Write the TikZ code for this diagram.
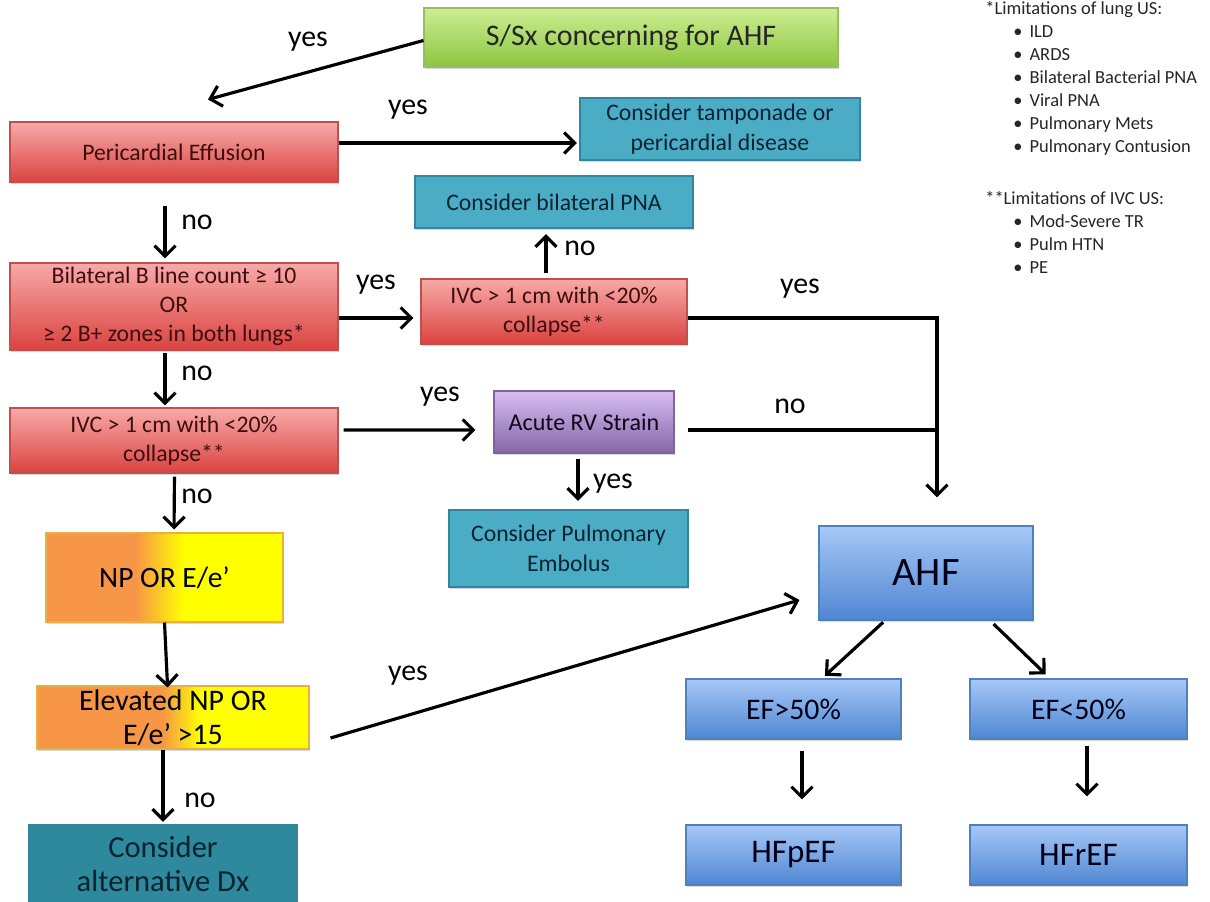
\documentclass[tikz,border=0pt]{standalone}
\usepackage{fontspec}
\setmainfont{Carlito}
\usetikzlibrary{arrows.meta,shadows,calc}
\definecolor{gTop}{HTML}{CDEE93}
\definecolor{gBot}{HTML}{8CC540}
\definecolor{gLine}{HTML}{98BF5E}
\definecolor{rTop}{HTML}{F7AAA8}
\definecolor{rBot}{HTML}{DA4340}
\definecolor{rLine}{HTML}{C0504D}
\definecolor{rText}{HTML}{3E0E0E}
\definecolor{tFill}{HTML}{4BACC6}
\definecolor{tLine}{HTML}{31859C}
\definecolor{tText}{HTML}{0B2230}
\definecolor{aFill}{HTML}{2F899C}
\definecolor{pTop}{HTML}{D8BDF2}
\definecolor{pBot}{HTML}{8366A8}
\definecolor{pLine}{HTML}{8064A2}
\definecolor{bTop}{HTML}{A6C8F7}
\definecolor{bBot}{HTML}{4F86D2}
\definecolor{bLine}{HTML}{4F81BD}
\definecolor{myorange}{HTML}{F79646}
\definecolor{myyellow}{HTML}{FFFF00}
\definecolor{oLine}{HTML}{E8B040}
\pgfdeclarehorizontalshading{oyA}{100bp}{color(0bp)=(myorange); color(44bp)=(myorange); color(54bp)=(myyellow); color(100bp)=(myyellow)}
\pgfdeclarehorizontalshading{oyB}{100bp}{color(0bp)=(myorange); color(48bp)=(myorange); color(55bp)=(myyellow); color(100bp)=(myyellow)}
\newcommand\fsz[2]{\fontsize{#1}{#2}\selectfont}
\tikzset{
  sz/.style 2 args={minimum width={#1*0.02cm}, minimum height={#2*0.02cm}},
  box/.style={draw, line width=0.6pt, inner sep=1pt, align=center,
    drop shadow={shadow xshift=0.7pt, shadow yshift=-0.9pt, opacity=0.3}},
  greenbox/.style={box, draw=gLine, top color=gTop, bottom color=gBot, font=\fsz{17}{20}, text=black!85},
  redbox/.style={box, draw=rLine, top color=rTop, bottom color=rBot, font=\fsz{13.5}{16.6}, text=rText},
  tealbox/.style={box, draw=tLine, line width=1.3pt, fill=tFill, font=\fsz{13.5}{17}, text=tText},
  altbox/.style={box, draw=tLine, line width=1.3pt, fill=aFill, font=\fsz{17.4}{19}, text=tText},
  purplebox/.style={box, draw=pLine, top color=pTop, bottom color=pBot, font=\fsz{13.7}{17}, text=black!80!violet},
  bluebox/.style={box, draw=bLine, top color=bTop, bottom color=bBot, font=\fsz{17}{20}, text=black!90!blue},
  oybox/.style={box, draw=oLine, font=\fsz{16.8}{20}, text=black},
  lbl/.style={font=\fsz{17}{20}, inner sep=0pt, text=black},
  note/.style={anchor=west, inner sep=0pt, font=\fsz{10.5}{12}, text=black!85, text height=7pt, text depth=2pt},
  arr/.style={line width=1.8pt, -{Straight Barb[length=6pt,width=12pt,line width=1.8pt]}},
  ln/.style={line width=1.8pt}
}
\begin{document}
\begin{tikzpicture}[x=0.02cm,y=-0.02cm]
\clip (0,0) rectangle (1210,902);
\fill[white] (0,0) rectangle (1210,902);

% boxes
\node[greenbox, sz={414}{59}] (sx) at (631,37.5) {S/Sx concerning for AHF};
\node[redbox, sz={328}{60}] (pe) at (174,152) {Pericardial Effusion};
\node[tealbox, sz={280}{62}] (tamp) at (720,129) {Consider tamponade or\\pericardial disease};
\node[tealbox, sz={278}{52}] (pna) at (554,202) {Consider bilateral PNA};
\node[redbox, sz={328}{87}] (bl) at (174,306.5) {Bilateral B line count ≥ 10\\OR\\≥ 2 B+ zones in both lungs*};
\node[redbox, sz={266}{65}] (ivcR) at (554,311.5) {IVC > 1 cm with <20\%\\collapse**};
\node[redbox, sz={328}{65}] (ivcL) at (174,440.5) {IVC > 1 cm with <20\%\\collapse**};
\node[purplebox, sz={180}{62}] (rv) at (584,422) {Acute RV Strain};
\node[tealbox, sz={239}{77}] (emb) at (568.5,548.5) {Consider Pulmonary\\Embolus};
\node[oybox, shading=oyA, sz={237}{89}] (np) at (164.5,577.5) {NP OR E/e’};
\node[oybox, shading=oyB, sz={272}{63}, font=\fsz{17}{19.5}] (el) at (173,717.5) {Elevated NP OR\\E/e’ >15};
\node[altbox, sz={268}{78}] (alt) at (163,864) {Consider\\alternative Dx};
\node[bluebox, sz={214}{94}, font=\fsz{23}{26}] (ahf) at (926,573) {AHF};
\node[bluebox, sz={215}{60}] (ef1) at (793.5,709) {EF>50\%};
\node[bluebox, sz={217}{60}] (ef2) at (1078.5,709) {EF<50\%};
\node[bluebox, sz={215}{60}, font=\fsz{18.8}{22}] (hfp) at (793.5,855) {HFpEF};
\node[bluebox, sz={217}{60}, font=\fsz{18.8}{22}] (hfr) at (1078.5,855) {HFrEF};

% connectors
\coordinate (c1) at ($(pe.north)+(34,-22)$);
\draw[arr] ([yshift=-0.06cm]sx.west) -- (c1);
\draw[arr] ([yshift=0.18cm]pe.east) -- ([yshift=0.18cm,xshift=-0.04cm]pe.east -| tamp.west);
\draw[arr, shorten <=0.46cm, shorten >=0.08cm] ([xshift=-0.18cm]pe.south) -- ([xshift=-0.18cm]bl.north);
\draw[arr, shorten >=0.14cm] ([yshift=-0.23cm]bl.east) -- ([yshift=-0.23cm]bl.east -| ivcR.west);
\draw[arr, shorten <=0.1cm, shorten >=0.1cm] ([xshift=-0.16cm]ivcR.north) -- ([xshift=-0.16cm]ivcR.north |- pna.south);
\coordinate (j) at ($(ahf.north)+(11,-28)$);
\draw[arr] ([yshift=-0.13cm]ivcR.east) -| (j);
\draw[arr, shorten <=0.04cm, shorten >=0.04cm] ([xshift=-0.18cm]bl.south) -- ([xshift=-0.18cm]bl.south |- ivcL.north);
\draw[arr, shorten <=0.1cm, shorten >=0.36cm] ([yshift=0.21cm]ivcL.east) -- ([yshift=-0.16cm]rv.west);
\draw[ln, shorten <=0.26cm] ([yshift=-0.16cm]rv.east) -- ([yshift=-0.16cm]rv.east -| j);
\draw[arr, shorten <=0.1cm, shorten >=0.16cm] ([xshift=-0.12cm]rv.south) -- ([xshift=-0.12cm]rv.south |- emb.north);
\draw[arr, shorten <=0.06cm, shorten >=0.06cm] ([xshift=0.01cm]ivcL.south) -- (ivcL.south |- np.north);
\draw[arr, shorten >=-0.04cm] (np.south) -- ([xshift=0.06cm]np.south |- el.north);
\draw[arr, shorten >=0.04cm] ([xshift=-0.2cm]el.south) -- ([xshift=-0.2cm]el.south |- alt.north);
\draw[arr] ($(el.east)+(21,20.5)$) -- ($(ahf.west)+(-19,27)$);
\draw[arr, shorten <=0.05cm, shorten >=0.08cm] ([xshift=-0.82cm]ahf.south) -- ([xshift=0.57cm]ef1.north);
\draw[arr, shorten <=0.1cm, shorten >=0.12cm] ([xshift=1.28cm]ahf.south) -- ([xshift=-0.57cm]ef2.north);
\draw[arr, shorten <=0.22cm, shorten >=0.5cm] ([xshift=0.17cm]ef1.south) -- ([xshift=0.17cm]ef1.south |- hfp.north);
\draw[arr, shorten <=0.12cm, shorten >=0.56cm] ([xshift=0.17cm]ef2.south) -- ([xshift=0.17cm]ef2.south |- hfr.north);

% labels
\node[lbl] (l1) at (308,42) {yes};
\node[lbl] (l2) at (408,110) {yes};
\node[lbl] (l3) at (197,222) {no};
\node[lbl] (l4) at (376,285) {yes};
\node[lbl] (l5) at (580,248) {no};
\node[lbl] (l6) at (800,289) {yes};
\node[lbl] (l7) at (197,373) {no};
\node[lbl] (l8) at (440,397) {yes};
\node[lbl] (l9) at (790,406) {no};
\node[lbl] (l10) at (613,484) {yes};
\node[lbl] (l11) at (197,496) {no};
\node[lbl] (l12) at (408,676) {yes};
\node[lbl] (l13) at (200,800) {no};

% notes
\node[note] (n0) at (985,10) {*Limitations of lung US:};
\node[note] (n1) at (1013,33) {\textbullet\hspace{4pt}ILD};
\node[note] (n2) at (1013,56) {\textbullet\hspace{4pt}ARDS};
\node[note] (n3) at (1013,79) {\textbullet\hspace{4pt}Bilateral Bacterial PNA};
\node[note] (n4) at (1013,102) {\textbullet\hspace{4pt}Viral PNA};
\node[note] (n5) at (1013,125) {\textbullet\hspace{4pt}Pulmonary Mets};
\node[note] (n6) at (1013,148) {\textbullet\hspace{4pt}Pulmonary Contusion};
\node[note] (n7) at (985,200) {**Limitations of IVC US:};
\node[note] (n8) at (1013,223) {\textbullet\hspace{4pt}Mod-Severe TR};
\node[note] (n9) at (1013,246) {\textbullet\hspace{4pt}Pulm HTN};
\node[note] (n10) at (1013,269) {\textbullet\hspace{4pt}PE};
\end{tikzpicture}
\end{document}
